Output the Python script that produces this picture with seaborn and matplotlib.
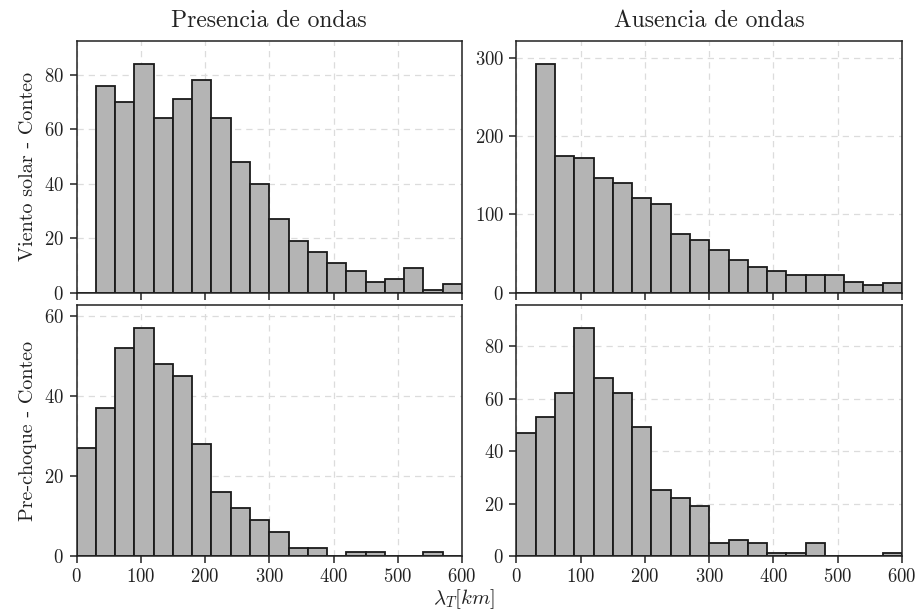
import numpy as np
import pandas as pd
import matplotlib
matplotlib.use("Agg")
import matplotlib.pyplot as plt
from matplotlib.ticker import MultipleLocator
import seaborn as sns

# bin edges (km)
bin_edges = list(range(0, 601, 30))

# counts per 30-km bin (0-30, 30-60, ..., 570-600)
sw_presence = [0, 76, 70, 84, 64, 71, 78, 64, 48, 40, 27, 19, 15, 11, 8, 4, 5, 9, 1, 3]
sw_absence = [0, 293, 175, 173, 147, 140, 121, 114, 75, 67, 54, 42, 33, 28, 23, 22, 22, 14, 9, 12]
ps_presence = [27, 37, 52, 57, 48, 45, 28, 16, 12, 9, 6, 2, 2, 0, 1, 1, 0, 0, 1, 0]
ps_absence = [47, 53, 62, 87, 68, 62, 49, 25, 22, 19, 5, 6, 5, 1, 1, 5, 0, 0, 0, 1]

col_titles = ["Presencia de ondas", "Ausencia de ondas"]
row_labels = ["Viento solar - Conteo", "Pre-choque - Conteo"]
x_ticks = [0, 100, 200, 300, 400, 500, 600]
y_steps = [[20, 100], [20, 20]]
x_label = r"$\lambda_T[km]$"

sns.set_style("ticks")
plt.rcParams["font.family"] = ["cmr10", "DejaVu Serif"]
plt.rcParams["mathtext.fontset"] = "cm"
plt.rcParams["axes.formatter.use_mathtext"] = True
plt.rcParams["axes.unicode_minus"] = False

centers = [(bin_edges[i] + bin_edges[i + 1]) / 2 for i in range(len(bin_edges) - 1)]
panels = [[sw_presence, sw_absence], [ps_presence, ps_absence]]

fig = plt.figure(figsize=(9.2, 6.12), dpi=100)
W, H = 920, 612
boxes = {
    (0, 0): (76.5, 41, 462, 292.5),
    (0, 1): (516.5, 41, 902, 292.5),
    (1, 0): (76.5, 305, 462, 556),
    (1, 1): (516.5, 305, 902, 556),
}
for (r, c), (x0, y0, x1, y1) in boxes.items():
    ax = fig.add_axes([x0 / W, 1 - y1 / H, (x1 - x0) / W, (y1 - y0) / H])
    counts = panels[r][c]
    df = pd.DataFrame({"x": centers, "w": counts})
    sns.histplot(data=df, x="x", weights="w", bins=bin_edges, ax=ax,
                 color="#b4b4b4", edgecolor="#1a1a1a", linewidth=1.3, alpha=1.0)
    ax.set_xlim(0, 600)
    ax.set_ylim(0, max(counts) * 1.1)
    ax.set_xticks(x_ticks)
    ax.yaxis.set_major_locator(MultipleLocator(y_steps[r][c]))
    ax.grid(True, linestyle=(0, (5, 4)), color="#dcdcdc", linewidth=0.9)
    ax.set_axisbelow(True)
    for s in ax.spines.values():
        s.set_visible(True)
        s.set_color("#222222")
        s.set_linewidth(1.1)
    ax.tick_params(axis="both", direction="out", length=5, width=1.1, pad=4,
                   colors="#222222", labelsize=13.5, labelcolor="#222222")
    ax.set_xlabel("")
    if r == 0:
        ax.tick_params(axis="x", labelbottom=False)
        ax.set_title(col_titles[c], fontsize=17, pad=10, color="#222222")
    if c == 0:
        ax.set_ylabel(row_labels[r], fontsize=14.5, color="#222222", labelpad=5)
    else:
        ax.set_ylabel("")

fig.text(464 / W, 1 - 599 / H, x_label, ha="center", va="center", fontsize=15, color="#222222")

fig.savefig("out.png", dpi=100)
